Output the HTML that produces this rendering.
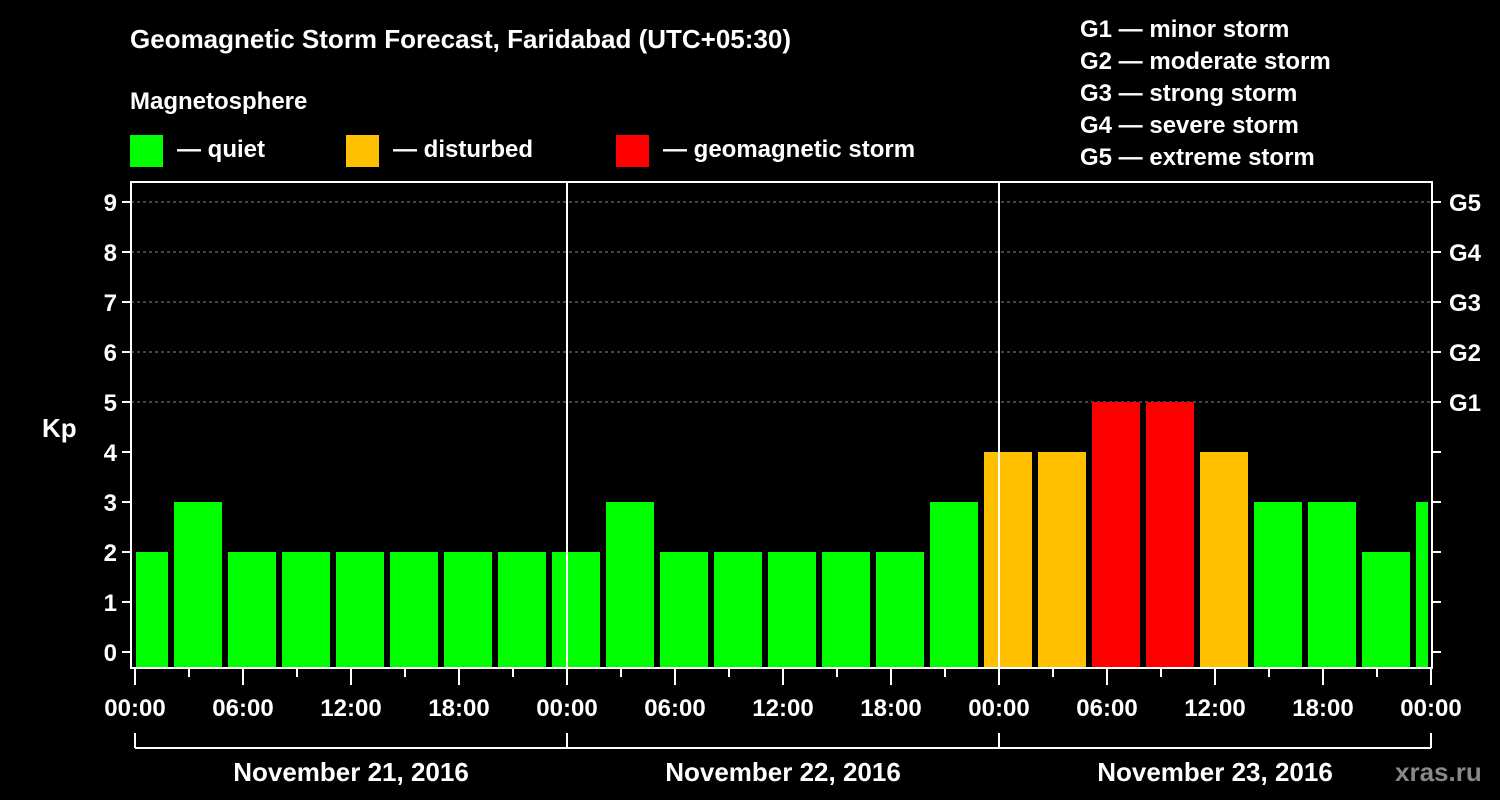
<!DOCTYPE html>
<html><head><meta charset="utf-8"><style>
body{margin:0;background:#000;}
svg{display:block;font-family:"Liberation Sans",Arial,sans-serif;font-weight:bold;}
</style></head><body>
<svg id="chart" width="1500" height="800" viewBox="0 0 1500 800" xmlns="http://www.w3.org/2000/svg">
<rect width="1500" height="800" fill="#000"/>
<text x="130" y="48" fill="#fff" font-size="26">Geomagnetic Storm Forecast, Faridabad (UTC+05:30)</text>
<text x="130" y="109" fill="#fff" font-size="24">Magnetosphere</text>
<g><rect x="130" y="135" width="33" height="32" fill="#00ff00"/><text x="177" y="157" fill="#fff" font-size="24">— quiet</text></g>
<g><rect x="346" y="135" width="33" height="32" fill="#ffc000"/><text x="393" y="157" fill="#fff" font-size="24">— disturbed</text></g>
<g><rect x="616" y="135" width="33" height="32" fill="#ff0000"/><text x="663" y="157" fill="#fff" font-size="24">— geomagnetic storm</text></g>
<g fill="#fff" font-size="24">
<text x="1080" y="37">G1 — minor storm</text>
<text x="1080" y="69">G2 — moderate storm</text>
<text x="1080" y="101">G3 — strong storm</text>
<text x="1080" y="133">G4 — severe storm</text>
<text x="1080" y="165">G5 — extreme storm</text>
</g>
<text x="42" y="437" fill="#fff" font-size="26">Kp</text>
<g id="grid"></g><g id="bars"></g><g id="axes"></g>
<text x="1395" y="781" fill="#888" font-size="26">xras.ru</text>
</svg>
<script>
const values=[2,3,2,2,2,2,2,2,2,3,2,2,2,2,2,3,4,4,5,5,4,3,3,2,3];
const yTicks=[0,1,2,3,4,5,6,7,8,9];
const gLabels=["G1","G2","G3","G4","G5"];
const xTickLabels=["00:00","06:00","12:00","18:00","00:00","06:00","12:00","18:00","00:00","06:00","12:00","18:00","00:00"];
const dayLabels=["November 21, 2016","November 22, 2016","November 23, 2016"];
const NS="http://www.w3.org/2000/svg";
const X0=135,PXH=18,Y0=652,PXK=50,TOP=182,BOT=668,L=131,R=1432;
const x=h=>X0+h*PXH, y=k=>Y0-k*PXK;
function mk(t,a,p){const e=document.createElementNS(NS,t);for(const k in a)e.setAttribute(k,a[k]);p.appendChild(e);return e;}
const grid=document.getElementById('grid'),bars=document.getElementById('bars'),axes=document.getElementById('axes');
for(let k=5;k<=9;k++){const l=mk('line',{x1:L,x2:R,y1:y(k),y2:y(k),stroke:'#888','stroke-dasharray':'3,3'},grid);
}
const defs=mk('defs',{},bars);const cp=mk('clipPath',{id:'pc'},defs);mk('rect',{x:X0+1,y:TOP,width:x(72)-X0-4,height:BOT-TOP},cp);
const bg=mk('g',{'clip-path':'url(#pc)'},bars);
values.forEach((v,i)=>{const h=i*3-0.5;const c=v>=5?'#ff0000':v>=4?'#ffc000':'#00ff00';
const r=mk('rect',{x:x(h)-15+0.0,y:y(v),width:48,height:BOT-1-y(v),fill:c},bg);
r.setAttribute('x',x(h)+0);r.setAttribute('x',X0+i*54-15);
});
const st={stroke:'#fff','stroke-width':2};
mk('rect',{x:L,y:TOP,width:R-L,height:BOT-TOP,fill:'none',...st},axes);
[1,2].forEach(d=>mk('line',{x1:x(24*d),x2:x(24*d),y1:TOP,y2:BOT,...st},axes));
yTicks.forEach(k=>{mk('line',{x1:L-9,x2:L,y1:y(k),y2:y(k),...st},axes);mk('line',{x1:R,x2:R+9,y1:y(k),y2:y(k),...st},axes);
const t=mk('text',{x:L-14,y:y(k)+9,fill:'#fff','font-size':24,'text-anchor':'end'},axes);t.textContent=k;
});
gLabels.forEach((g,i)=>{const t=mk('text',{x:R+17,y:y(5+i)+9,fill:'#fff','font-size':24},axes);t.textContent=g;
});
for(let h=0;h<=72;h+=3){mk('line',{x1:x(h),x2:x(h),y1:BOT,y2:BOT+(h%6?9:17),...st},axes);}
xTickLabels.forEach((s,i)=>{const t=mk('text',{x:x(i*6),y:716,fill:'#fff','font-size':24,'text-anchor':'middle'},axes);t.textContent=s;
});
mk('line',{x1:x(0),x2:x(72),y1:748,y2:748,...st},axes);
for(let d=0;d<=3;d++)mk('line',{x1:x(24*d),x2:x(24*d),y1:733,y2:748,...st},axes);
dayLabels.forEach((s,i)=>{const t=mk('text',{x:x(24*i+12),y:781,fill:'#fff','font-size':26,'text-anchor':'middle'},axes);t.textContent=s;
});
</script>
</body></html>
